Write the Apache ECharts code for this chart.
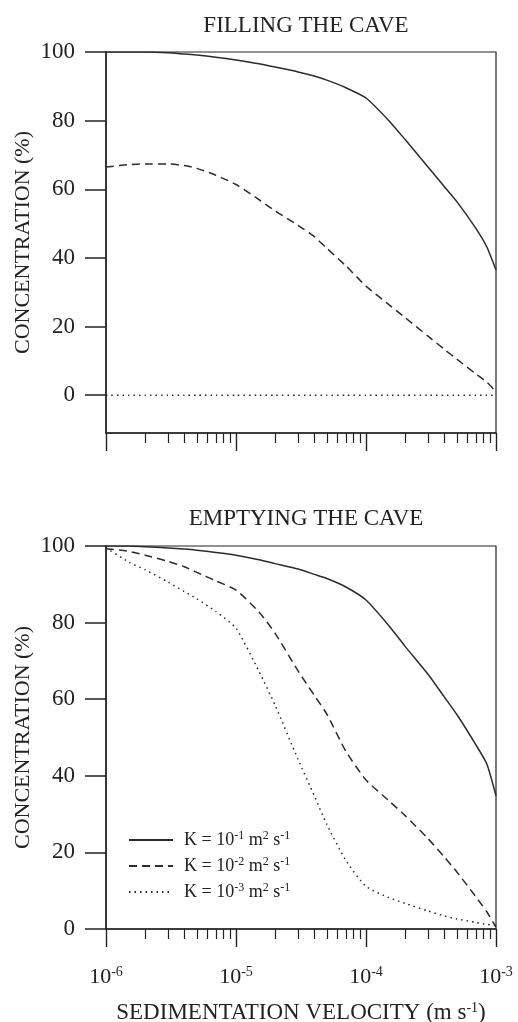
<!DOCTYPE html>
<html>
<head>
<meta charset="utf-8">
<script src="https://cdn.jsdelivr.net/npm/echarts@6/dist/echarts.min.js"></script>
<style>html,body{margin:0;padding:0;background:#fff}#c{width:518px;height:1022px}</style>
</head>
<body>
<div id="c"></div>
<script>
const velocity = [1e-6, 1.5e-6, 2e-6, 3e-6, 4e-6, 5e-6, 7e-6, 1e-5, 1.5e-5, 2e-5, 3e-5, 4e-5, 5e-5, 7e-5, 1e-4, 1.5e-4, 2e-4, 3e-4, 4e-4, 5e-4, 7e-4, 8.5e-4, 1e-3];
const fillK1 = [100,100,100,99.8,99.4,99.1,98.5,97.7,96.6,95.6,94.2,93.0,91.8,89.6,86.6,80.0,74.5,66.5,60.8,56.4,48.6,43.2,36.5];
const fillK2 = [66.5,67.2,67.4,67.4,66.9,66.1,64.1,61.4,57.0,53.7,49.5,46.2,42.8,37.7,31.8,26.4,22.6,17.2,13.4,10.5,6.2,3.8,1.0];
const fillK3 = [0,0,0,0,0,0,0,0,0,0,0,0,0,0,0,0,0,0,0,0,0,0,0];
const emptyK1 = [100,100,99.8,99.5,99.2,98.9,98.3,97.6,96.4,95.4,94.0,92.6,91.5,89.3,85.9,79.2,73.8,66.5,60.6,56.0,48.1,43.1,34.8];
const emptyK2 = [99.3,98.6,97.6,96.0,94.6,93.1,90.9,88.5,82.8,77.2,67.4,61.0,56.1,46.4,38.9,33.5,29.6,23.6,18.8,14.9,8.4,4.5,0.5];
const emptyK3 = [99.5,95.8,93.8,90.6,88.1,86.2,82.9,78.5,67.3,58.4,44.3,34.8,27.3,17.9,11.1,8.2,6.7,4.7,3.4,2.6,1.7,1.2,0.9];

const seriesNames = ['K1', 'K2', 'K3'];
const legendLabels = ['K = 10{sup|-1} m{sup|2} s{sup|-1}', 'K = 10{sup|-2} m{sup|2} s{sup|-1}', 'K = 10{sup|-3} m{sup|2} s{sup|-1}'];
const majorTicks = [1e-6, 1e-5, 1e-4, 1e-3];
const minorTicks = [2e-6,3e-6,4e-6,5e-6,6e-6,7e-6,8e-6,9e-6,2e-5,3e-5,4e-5,5e-5,6e-5,7e-5,8e-5,9e-5,2e-4,3e-4,4e-4,5e-4,6e-4,7e-4,8e-4,9e-4];
const yTicks = [0, 20, 40, 60, 80, 100];
const titles = ['FILLING THE CAVE', 'EMPTYING THE CAVE'];
const yName = 'CONCENTRATION (%)';
const xName = 'SEDIMENTATION VELOCITY (m s{sup|-1})';

const FONT = 'Liberation Serif';
const INK = '#222';
const LINE = '#2b2b2b';

function pts(vals) { return velocity.map((v, i) => [v, vals[i]]); }

const styles = [
  { type: 'solid', width: 1.5 },
  { type: [8, 5], width: 1.5 },
  { type: [1.5, 4], width: 1.5 }
];

const grids = [
  { left: 106, right: 22, top: 52, height: 381, show: true, borderColor: INK, borderWidth: 1.2, outerBoundsMode: 'none', containLabel: false },
  { left: 106, right: 22, top: 546, height: 383, show: true, borderColor: INK, borderWidth: 1.2, outerBoundsMode: 'none', containLabel: false }
];

const supStyle = { fontFamily: FONT, fontSize: 14, color: INK, verticalAlign: 'top', padding: [0, 0, 10, 0] };

function xAxesFor(gi, showLabels) {
  return [
    {
      type: 'log', logBase: 10, gridIndex: gi, min: 1e-6, max: 1e-3, position: 'bottom',
      name: showLabels ? xName : '', nameLocation: 'middle', nameGap: 72, nameMoveOverlap: false,
      nameTextStyle: { fontFamily: FONT, fontSize: 23, color: INK, rich: { sup: supStyle } },
      axisLine: { show: true, onZero: false, lineStyle: { color: INK, width: 1.5 } },
      axisTick: { show: true, customValues: minorTicks, length: 10, lineStyle: { color: INK, width: 1.2 } },
      axisLabel: { show: showLabels, customValues: majorTicks, margin: 36, fontFamily: FONT, fontSize: 22, color: INK,
        formatter: v => '10{sup|' + Math.round(Math.log10(v)) + '}',
        rich: { sup: supStyle } },
      splitLine: { show: false }, minorTick: { show: false }
    },
    {
      type: 'log', logBase: 10, gridIndex: gi, min: 1e-6, max: 1e-3, position: 'bottom',
      axisLine: { show: false, onZero: false },
      axisTick: { show: true, customValues: majorTicks, length: 18, lineStyle: { color: INK, width: 1.4 } },
      axisLabel: { show: false }, splitLine: { show: false }
    }
  ];
}

function yAxisFor(gi, min) {
  return {
    type: 'value', gridIndex: gi, min: min, max: 100,
    name: yName, nameLocation: 'middle', nameGap: 72, nameMoveOverlap: false,
    nameTextStyle: { fontFamily: FONT, fontSize: 22, color: INK },
    axisLine: { show: true, onZero: false, lineStyle: { color: INK, width: 1.5 } },
    axisTick: { show: true, customValues: yTicks, length: 21, inside: false, lineStyle: { color: INK, width: 1.5 } },
    axisLabel: { customValues: yTicks, margin: 31, fontFamily: FONT, fontSize: 23, color: INK },
    splitLine: { show: false }
  };
}

const fillData = [fillK1, fillK2, fillK3];
const emptyData = [emptyK1, emptyK2, emptyK3];
const series = [];
fillData.forEach((d, i) => series.push({
  name: seriesNames[i], type: 'line', xAxisIndex: 0, yAxisIndex: 0, data: pts(d),
  symbol: 'none', showSymbol: false, smooth: 0.2, lineStyle: Object.assign({ color: LINE }, styles[i]), itemStyle: { color: LINE }
}));
emptyData.forEach((d, i) => series.push({
  name: seriesNames[i], type: 'line', xAxisIndex: 2, yAxisIndex: 1, data: pts(d),
  symbol: 'none', showSymbol: false, smooth: 0.2, lineStyle: Object.assign({ color: LINE }, styles[i]), itemStyle: { color: LINE }
}));

const chart = echarts.init(document.getElementById('c'), null, { renderer: 'canvas' });
chart.setOption({
  backgroundColor: '#fff',
  animation: false,
  title: [
    { text: titles[0], left: 301, textAlign: 'center', top: 9, textStyle: { fontFamily: FONT, fontSize: 23, fontWeight: 'normal', color: INK } },
    { text: titles[1], left: 301, textAlign: 'center', top: 502, textStyle: { fontFamily: FONT, fontSize: 23, fontWeight: 'normal', color: INK } }
  ],
  legend: {
    data: seriesNames, orient: 'vertical', left: 123, top: 825, itemWidth: 44, itemHeight: 14, itemGap: 7,
    selectedMode: false,
    itemStyle: { opacity: 0 },
    formatter: name => legendLabels[seriesNames.indexOf(name)],
    textStyle: { fontFamily: FONT, fontSize: 18, color: INK, padding: [0, 0, 0, 6],
      rich: { sup: { fontFamily: FONT, fontSize: 12, color: INK, verticalAlign: 'top', padding: [0, 0, 8, 0] } } }
  },
  grid: grids,
  xAxis: [...xAxesFor(0, false), ...xAxesFor(1, true)],
  yAxis: [yAxisFor(0, -11), yAxisFor(1, 0)],
  series: series
});
</script>
</body>
</html>
